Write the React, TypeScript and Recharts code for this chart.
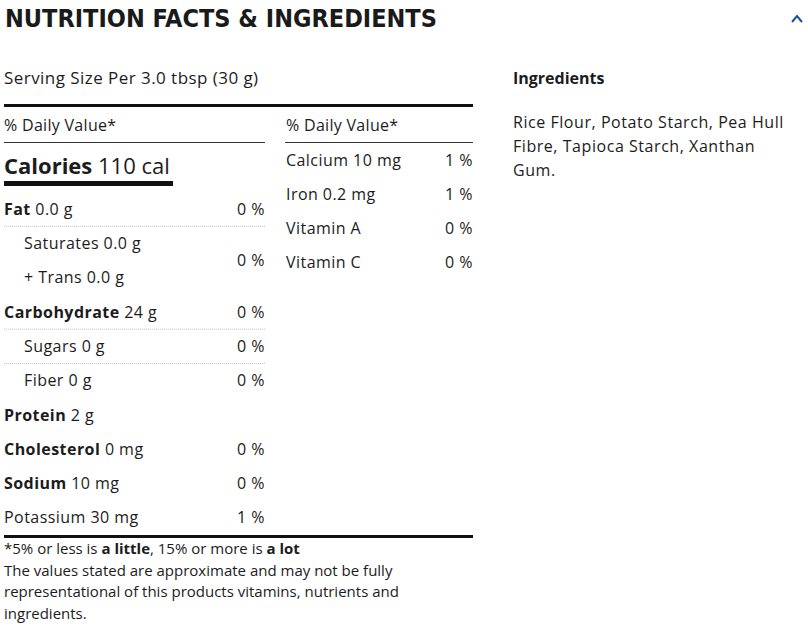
import React from 'react';
import { BarChart, Bar, XAxis, YAxis } from 'recharts';

const leftRows = ['Fat', 'Saturates', '+ Trans', 'Carbohydrate', 'Sugars', 'Fiber', 'Protein', 'Cholesterol', 'Sodium', 'Potassium'];
const leftAmounts = ['0.0 g', '0.0 g', '0.0 g', '24 g', '0 g', '0 g', '2 g', '0 mg', '10 mg', '30 mg'];
const leftPercents = [0, 0, null, 0, 0, 0, null, 0, 0, 1];

const rightRows = ['Calcium', 'Iron', 'Vitamin A', 'Vitamin C'];
const rightAmounts = ['10 mg', '0.2 mg', '', ''];
const rightPercents = [1, 1, 0, 0];

const ingredientLines = ['Rice Flour, Potato Starch, Pea Hull', 'Fibre, Tapioca Starch, Xanthan', 'Gum.'];
const noteLines = [
  'The values stated are approximate and may not be fully',
  'representational of this products vitamins, nutrients and',
  'ingredients.'
];

// styling only
const boldRows = new Set(['Fat', 'Carbohydrate', 'Protein', 'Cholesterol', 'Sodium']);
const indentRows = new Set(['Saturates', '+ Trans', 'Sugars', 'Fiber']);
const dottedAfter = new Set(['Fat', 'Carbohydrate', 'Sugars']);
const spansTwo = new Set(['Saturates']);

const FONT = '"Open Sans", sans-serif';
const INK = '#1c1c1c';
const SPACING = 0.45;

const leftData = leftRows.map((name, i) => ({ name, amount: leftAmounts[i], pct: leftPercents[i] }));
const rightData = rightRows.map((name, i) => ({ name, amount: rightAmounts[i], pct: rightPercents[i] }));

const makeNameTick = (data: any[], left: number, right: number, band: number) => (props: any) => {
  const { y, payload } = props;
  const row = data.find((d) => d.name === payload.value);
  if (!row) return null;
  const indent = indentRows.has(row.name) ? 20 : 0;
  return (
    <g>
      <text x={left + indent} y={y} dy="0.35em" fontFamily={FONT} fontSize={16} fill={INK} letterSpacing={SPACING}>
        <tspan fontWeight={boldRows.has(row.name) ? 700 : 400}>{row.name}</tspan>
        {row.amount ? <tspan>{' ' + row.amount}</tspan> : null}
      </text>
      {dottedAfter.has(row.name) ? (
        <line x1={left} x2={right} y1={y + band / 2} y2={y + band / 2} stroke="#c4c4c4" strokeDasharray="1 1" />
      ) : null}
    </g>
  );
};

const makePctTick = (data: any[], right: number, band: number) => (props: any) => {
  const { y, payload } = props;
  const row = data.find((d) => d.name === payload.value);
  if (!row || row.pct == null) return null;
  const shift = spansTwo.has(row.name) ? band / 2 : 0;
  return (
    <text x={right} y={y + shift} dy="0.35em" textAnchor="end" fontFamily={FONT} fontSize={16} fill={INK} letterSpacing={SPACING}>
      {row.pct + ' %'}
    </text>
  );
};

const abs = (left: number, top: number): React.CSSProperties => ({ position: 'absolute', left, top });

const App = () => {
  const leftBand = 343 / leftRows.length;
  const rightBand = 136 / rightRows.length;
  return (
    <div style={{ position: 'absolute', left: 0, top: 0, width: 808, height: 627, background: '#fff', color: INK, fontFamily: FONT }}>
      <div style={{ ...abs(5, 3), fontFamily: '"Liberation Sans Narrow", "DejaVu Sans Condensed", sans-serif', fontWeight: 700, fontSize: 25, lineHeight: '32px', color: '#1a1a1a' }}>
        NUTRITION FACTS &amp; INGREDIENTS
      </div>
      <svg style={abs(786, 10)} width={20} height={18}>
        <polyline points="6,12 11,6 16,12" fill="none" stroke="#1d4f9c" strokeWidth={2} />
      </svg>

      <div style={{ ...abs(4, 66), fontSize: 17, lineHeight: '24px', letterSpacing: 0.45 }}>Serving Size Per 3.0 tbsp (30 g)</div>
      <div style={{ ...abs(513, 66), fontSize: 16, lineHeight: '24px', fontWeight: 700 }}>Ingredients</div>
      <div style={{ ...abs(513, 110), fontSize: 16, lineHeight: '24px', letterSpacing: 0.55 }}>
        {ingredientLines.map((l) => (
          <div key={l}>{l}</div>
        ))}
      </div>

      <div style={{ ...abs(4, 104), width: 469, height: 3, background: '#111' }} />
      <div style={{ ...abs(4, 113), fontSize: 16, lineHeight: '24px', letterSpacing: 0.3 }}>% Daily Value*</div>
      <div style={{ ...abs(286, 113), fontSize: 16, lineHeight: '24px', letterSpacing: 0.3 }}>% Daily Value*</div>
      <div style={{ ...abs(4, 142), width: 261, height: 1, background: '#333' }} />
      <div style={{ ...abs(285, 142), width: 188, height: 1, background: '#333' }} />

      <div style={{ ...abs(4, 150), fontSize: 22, lineHeight: '30px' }}>
        <span style={{ fontWeight: 700 }}>Calories</span> 110 cal
      </div>
      <div style={{ ...abs(4, 181), width: 169, height: 5, background: '#111' }} />

      <div style={abs(0, 192)}>
        <BarChart width={280} height={343} data={leftData} layout="vertical" margin={{ top: 0, right: 0, bottom: 0, left: 0 }} barCategoryGap={0}>
          <XAxis type="number" domain={[0, 100]} hide />
          <YAxis yAxisId="rows" type="category" dataKey="name" width={200} axisLine={false} tickLine={false} tick={makeNameTick(leftData, 4, 265, leftBand)} interval={0} />
          <YAxis yAxisId="pct" orientation="right" type="category" dataKey="name" width={70} axisLine={false} tickLine={false} tick={makePctTick(leftData, 265, leftBand)} interval={0} />
          <Bar yAxisId="rows" dataKey="pct" fill="transparent" isAnimationActive={false} />
        </BarChart>
      </div>

      <div style={abs(282, 143)}>
        <BarChart width={200} height={136} data={rightData} layout="vertical" margin={{ top: 0, right: 0, bottom: 0, left: 0 }} barCategoryGap={0}>
          <XAxis type="number" domain={[0, 100]} hide />
          <YAxis yAxisId="rows" type="category" dataKey="name" width={130} axisLine={false} tickLine={false} tick={makeNameTick(rightData, 286 - 282, 473 - 282, rightBand)} interval={0} />
          <YAxis yAxisId="pct" orientation="right" type="category" dataKey="name" width={60} axisLine={false} tickLine={false} tick={makePctTick(rightData, 473 - 282, rightBand)} interval={0} />
          <Bar yAxisId="rows" dataKey="pct" fill="transparent" isAnimationActive={false} />
        </BarChart>
      </div>

      <div style={{ ...abs(4, 535), width: 469, height: 3, background: '#111' }} />
      <div style={{ ...abs(4, 538), fontSize: 15, lineHeight: '21.5px' }}>
        <div>
          *5% or less is <b>a little</b>, 15% or more is <b>a lot</b>
        </div>
        {noteLines.map((l) => (
          <div key={l}>{l}</div>
        ))}
      </div>
    </div>
  );
};

export default App;
